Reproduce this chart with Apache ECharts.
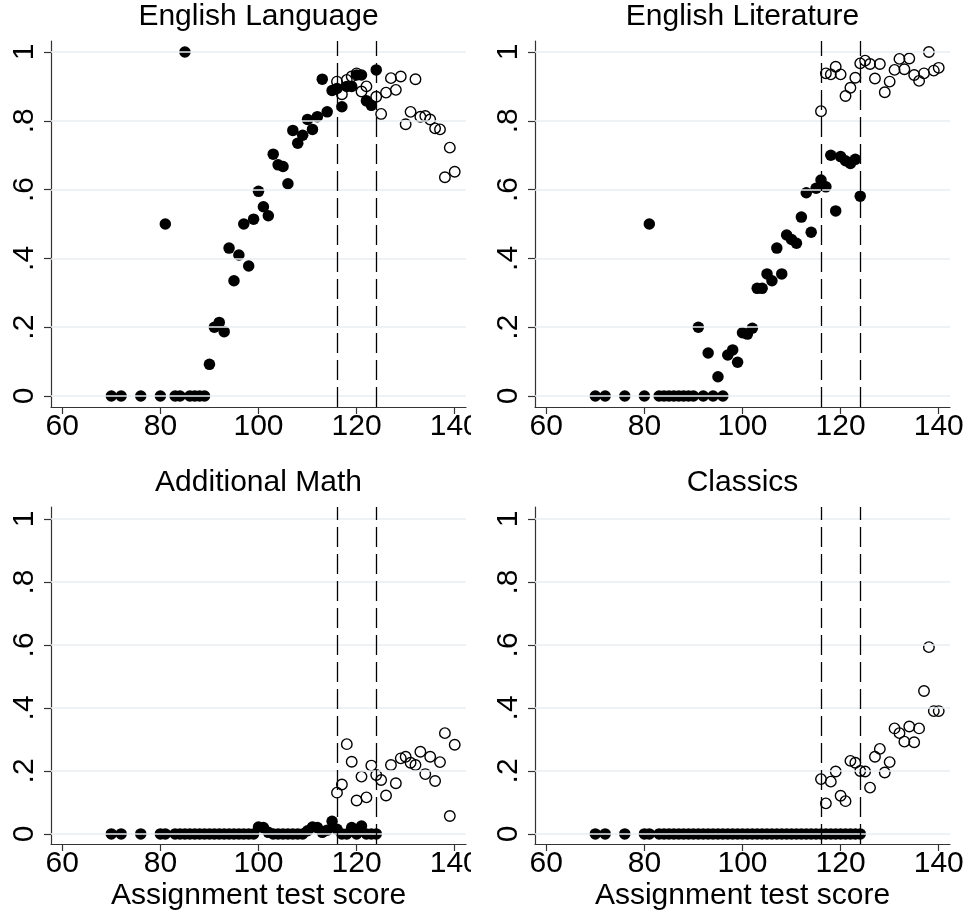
<!DOCTYPE html>
<html>
<head>
<meta charset="utf-8">
<title>Assignment test score</title>
<script src="https://cdn.jsdelivr.net/npm/echarts@6.0.0/dist/echarts.min.js"></script>
<style>
html, body { margin: 0; padding: 0; background: #fff; }
#main { width: 968px; height: 916px; }
</style>
</head>
<body>
<div id="main"></div>
<script>
var titles = ['English Language', 'English Literature', 'Additional Math', 'Classics'];
var xTitle = 'Assignment test score';
var xTicks = [60, 80, 100, 120, 140];
var yTicks = [0, 0.2, 0.4, 0.6, 0.8, 1];
var cutoffs = [116, 124];

// scores shown with filled markers / hollow markers
var scoresBelow = [70, 72, 76, 80, 81, 83, 84, 85, 86, 87, 88, 89, 90, 91, 92, 93, 94, 95, 96, 97, 98, 99,
	100, 101, 102, 103, 104, 105, 106, 107, 108, 109, 110, 111, 112, 113, 114, 115, 116, 117, 118, 119,
	120, 121, 122, 123, 124];
var scoresAbove = [116, 117, 118, 119, 120, 121, 122, 123, 124, 125, 126, 127, 128, 129, 130, 131, 132,
	133, 134, 135, 136, 137, 138, 139, 140];

var langBelow = [0, 0, 0, 0, 0.50, 0, 0, 1.0, 0, 0, 0, 0, 0.092, 0.20, 0.214, 0.187, 0.43, 0.335, 0.41, 0.50, 0.378, 0.514,
	0.595, 0.55, 0.524, 0.703, 0.672, 0.667, 0.617, 0.772, 0.735, 0.758, 0.804, 0.775, 0.812, 0.921, 0.826, 0.888, 0.894, 0.841, 0.90, 0.90,
	0.933, 0.933, 0.858, 0.845, 0.948];
var langAbove = [0.914, 0.877, 0.919, 0.929, 0.938, 0.885, 0.90, null, 0.87, 0.82, 0.882, 0.924, 0.89, 0.929, 0.79, 0.826, 0.921,
	0.812, 0.814, 0.804, 0.778, 0.775, 0.636, 0.722, 0.652];

var litBelow = [0, 0, 0, 0, 0.50, 0, 0, 0, 0, 0, 0, 0, 0, 0.20, 0, 0.125, 0, 0.056, 0, 0.119, 0.134, 0.098,
	0.184, 0.18, 0.197, 0.313, 0.313, 0.355, 0.335, 0.43, 0.355, 0.468, 0.455, 0.444, 0.52, 0.591, 0.476, 0.604, 0.628, 0.608, 0.70, 0.538,
	0.696, 0.684, 0.676, 0.688, 0.581];
var litAbove = [0.828, 0.938, 0.935, 0.957, 0.935, 0.872, 0.896, 0.925, 0.967, 0.975, 0.965, 0.923, 0.965, 0.883, 0.914, 0.948, 0.98,
	0.95, 0.981, 0.933, 0.916, 0.938, 1.0, 0.946, 0.954];

var mathBelow = [0, 0, 0, 0, 0, 0, 0, 0, 0, 0, 0, 0, 0, 0, 0, 0, 0, 0, 0, 0, 0, 0,
	0.022, 0.02, 0.005, 0, 0, 0, 0, 0, 0, 0, 0.01, 0.022, 0.02, 0.005, 0.012, 0.04, 0.015, 0, 0, 0.02,
	0, 0.025, 0, 0, 0];
var mathAbove = [0.131, 0.157, 0.285, 0.229, 0.106, 0.182, 0.116, 0.217, 0.187, 0.171, 0.122, 0.219, 0.161, 0.24, 0.245, 0.226, 0.219,
	0.261, 0.19, 0.245, 0.168, 0.228, 0.32, 0.057, 0.283];

var classicsBelow = [0, 0, 0, 0, 0, 0, 0, 0, 0, 0, 0, 0, 0, 0, 0, 0, 0, 0, 0, 0, 0, 0,
	0, 0, 0, 0, 0, 0, 0, 0, 0, 0, 0, 0, 0, 0, 0, 0, 0, 0, 0, 0,
	0, 0, 0, 0, 0];
var classicsAbove = [0.174, 0.097, 0.166, 0.198, 0.121, 0.104, 0.232, 0.226, 0.20, 0.198, 0.147, 0.245, 0.27, 0.195, 0.228, 0.335, 0.32,
	0.293, 0.341, 0.291, 0.335, 0.454, 0.593, 0.39, 0.39];

var below = [langBelow, litBelow, mathBelow, classicsBelow];
var above = [langAbove, litAbove, mathAbove, classicsAbove];

var font = 'Liberation Sans, Arial, sans-serif';
var panels = [
	{ left: 51, top: 41, height: 366, yMax: 1.032 },
	{ left: 535, top: 41, height: 366, yMax: 1.032 },
	{ left: 51, top: 507, height: 337, yMax: 1.038 },
	{ left: 535, top: 507, height: 337, yMax: 1.038 }
];
var panelWidth = 415;

function pairs(xs, ys) {
	var out = [];
	for (var i = 0; i < xs.length; i++) {
		if (ys[i] !== null) out.push([xs[i], ys[i]]);
	}
	return out;
}

function yLabel(v) {
	if (v === 0) return '0';
	if (v === 1) return '1';
	return String(v).replace(/^0/, '');
}

var dom = document.getElementById('main');
var myChart = echarts.init(dom, null, { renderer: 'canvas' });

var title = [], grid = [], xAxis = [], yAxis = [], series = [];

panels.forEach(function(p, i) {
	var bottomRow = i >= 2;
	title.push({
		text: titles[i],
		left: p.left + panelWidth / 2,
		textAlign: 'center',
		top: p.top - 39,
		padding: 0,
		textStyle: { fontSize: 30, fontWeight: 'normal', color: '#000', fontFamily: font }
	});
	grid.push({ left: p.left, top: p.top, width: panelWidth, height: p.height });
	xAxis.push({
		type: 'value',
		gridIndex: i,
		min: 57.7,
		max: 142.3,
		axisLine: { onZero: false, lineStyle: { color: '#333', width: 1.2 } },
		axisTick: { customValues: xTicks, length: 7, lineStyle: { color: '#333', width: 1.2 } },
		axisLabel: { customValues: xTicks, margin: 5, fontSize: 30, color: '#000', fontFamily: font },
		splitLine: { show: false },
		name: bottomRow ? xTitle : '',
		nameLocation: 'middle',
		nameGap: 37,
		nameTextStyle: { fontSize: 30, color: '#000', fontFamily: font }
	});
	yAxis.push({
		type: 'value',
		gridIndex: i,
		min: -0.032,
		max: p.yMax,
		axisLine: { show: true, onZero: false, lineStyle: { color: '#333', width: 1.2 } },
		axisTick: { show: true, customValues: yTicks, length: 7, lineStyle: { color: '#333', width: 1.2 } },
		axisLabel: {
			customValues: yTicks, rotate: 90, margin: 11, fontSize: 30, color: '#000', fontFamily: font,
			formatter: yLabel
		},
		splitLine: { show: false }
	});

	// grid lines and the two cut-off lines
	var lines = yTicks.map(function(v) {
		return { yAxis: v, lineStyle: { color: '#e8eef0', width: 1.5, type: 'solid' } };
	});
	cutoffs.forEach(function(c) {
		lines.push({ xAxis: c, lineStyle: { color: '#000', width: 1.3, type: [20, 7] } });
	});
	series.push({
		type: 'scatter',
		xAxisIndex: i,
		yAxisIndex: i,
		data: [],
		z: 1,
		silent: true,
		markLine: {
			silent: true,
			symbol: 'none',
			label: { show: false },
			animation: false,
			data: lines
		}
	});

	series.push({
		type: 'scatter',
		xAxisIndex: i,
		yAxisIndex: i,
		z: 2,
		symbol: 'circle',
		symbolSize: 11.5,
		itemStyle: { color: '#000', opacity: 1 },
		data: pairs(scoresBelow, below[i])
	});
	series.push({
		type: 'scatter',
		xAxisIndex: i,
		yAxisIndex: i,
		z: 3,
		symbol: 'circle',
		symbolSize: 10.5,
		itemStyle: { color: 'transparent', borderColor: '#000', borderWidth: 1.4, opacity: 1 },
		data: pairs(scoresAbove, above[i])
	});
});

option = {
	backgroundColor: '#fff',
	animation: false,
	title: title,
	grid: grid,
	xAxis: xAxis,
	yAxis: yAxis,
	series: series,
	graphic: [
		// the left panels cut off their last tick label
		{ type: 'rect', shape: { x: 471, y: 410, width: 13, height: 40 }, style: { fill: '#fff' }, z: 100 },
		{ type: 'rect', shape: { x: 471, y: 847, width: 13, height: 40 }, style: { fill: '#fff' }, z: 100 }
	]
};

if (option && typeof option === 'object') {
	myChart.setOption(option, true);
}
</script>
</body>
</html>
